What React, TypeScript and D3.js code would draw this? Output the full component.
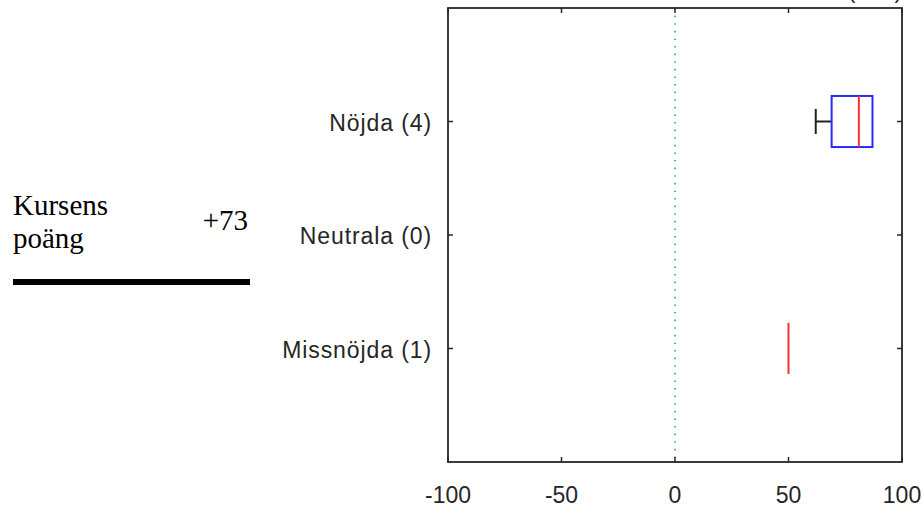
import React from "react";
import * as d3 from "d3";

const categories = ["Nöjda (4)", "Neutrala (0)", "Missnöjda (1)"];
const whiskerLow = [62, null, 50];
const quartile1 = [69, null, 50];
const medians = [81, null, 50];
const quartile3 = [87, null, 50];
const whiskerHigh = [87, null, 50];
const xTicks = [-100, -50, 0, 50, 100];
const referenceValue = 0;
const scoreLabelLines = ["Kursens", "poäng"];
const scoreValue = "+73";
const titleFragment = "(n=5)";

const W = 922;
const H = 508;
const plot = { left: 448, right: 902, top: 8, bottom: 462 };

export default function App() {
  const x = d3.scaleLinear().domain([-100, 100]).range([plot.left, plot.right]);
  const y = d3
    .scalePoint<string>()
    .domain(categories)
    .range([plot.top, plot.bottom])
    .padding(1);
  const step = y.step();
  const halfBox = step * 0.225;
  const halfCap = step * 0.11;
  const axisColor = "#262626";
  const tickLen = 5;
  const sansFont = "'Liberation Sans', Arial, Helvetica, sans-serif";
  const serifFont = "'Liberation Serif', 'Times New Roman', serif";

  return (
    <svg
      width={W}
      height={H}
      viewBox={`0 0 ${W} ${H}`}
      style={{ position: "absolute", left: 0, top: 0, background: "#fff" }}
    >
      <rect x={0} y={0} width={W} height={H} fill="#fff" />

      {/* Left annotation */}
      <g fontFamily={serifFont} fontSize={29} fill="#000">
        {scoreLabelLines.map((t, i) => (
          <text key={t} x={13} y={215 + i * 33}>
            {t}
          </text>
        ))}
        <text x={248} y={230} textAnchor="end">
          {scoreValue}
        </text>
      </g>
      <line x1={13} x2={250} y1={282} y2={282} stroke="#000" strokeWidth={6} />

      {/* cut-off title fragment */}
      <text
        x={875}
        y={-2}
        textAnchor="middle"
        fontFamily={sansFont}
        fontSize={23}
        fill={axisColor}
      >
        {titleFragment}
      </text>

      {/* reference line */}
      <line
        x1={x(referenceValue)}
        x2={x(referenceValue)}
        y1={plot.top}
        y2={plot.bottom}
        stroke="#3a8fd6"
        strokeWidth={1.6}
        strokeDasharray="1.6 6"
      />

      {/* boxes */}
      {categories.map((c, i) => {
        const cy = y(c) as number;
        const q1 = quartile1[i];
        const q3 = quartile3[i];
        const med = medians[i];
        const lo = whiskerLow[i];
        const hi = whiskerHigh[i];
        if (q1 == null || q3 == null || med == null || lo == null || hi == null) return null;
        return (
          <g key={c}>
            {lo < q1 && (
              <g stroke="#222" strokeWidth={2}>
                <line x1={x(lo)} x2={x(q1)} y1={cy} y2={cy} />
                <line x1={x(lo)} x2={x(lo)} y1={cy - halfCap} y2={cy + halfCap} />
              </g>
            )}
            {hi > q3 && (
              <g stroke="#222" strokeWidth={2}>
                <line x1={x(q3)} x2={x(hi)} y1={cy} y2={cy} />
                <line x1={x(hi)} x2={x(hi)} y1={cy - halfCap} y2={cy + halfCap} />
              </g>
            )}
            <rect
              x={x(q1)}
              y={cy - halfBox}
              width={x(q3) - x(q1)}
              height={halfBox * 2}
              fill="none"
              stroke="#2a2aff"
              strokeWidth={2}
            />
            <line
              x1={x(med)}
              x2={x(med)}
              y1={cy - halfBox}
              y2={cy + halfBox}
              stroke="#ff3030"
              strokeWidth={2}
            />
          </g>
        );
      })}

      {/* axes frame */}
      <rect
        x={plot.left}
        y={plot.top}
        width={plot.right - plot.left}
        height={plot.bottom - plot.top}
        fill="none"
        stroke={axisColor}
        strokeWidth={1.8}
      />

      {/* x ticks */}
      {xTicks.map((t) => (
        <g key={t}>
          <line x1={x(t)} x2={x(t)} y1={plot.bottom} y2={plot.bottom - tickLen} stroke={axisColor} strokeWidth={1.5} />
          <line x1={x(t)} x2={x(t)} y1={plot.top} y2={plot.top + tickLen} stroke={axisColor} strokeWidth={1.5} />
          <text
            x={x(t)}
            y={503}
            textAnchor="middle"
            fontFamily={sansFont}
            fontSize={23}
            fill={axisColor}
          >
            {t}
          </text>
        </g>
      ))}

      {/* y ticks */}
      {categories.map((c) => {
        const cy = y(c) as number;
        return (
          <g key={c}>
            <line x1={plot.left} x2={plot.left + tickLen} y1={cy} y2={cy} stroke={axisColor} strokeWidth={1.5} />
            <line x1={plot.right} x2={plot.right - tickLen} y1={cy} y2={cy} stroke={axisColor} strokeWidth={1.5} />
            <text
              x={432}
              y={cy + 9}
              textAnchor="end"
              fontFamily={sansFont}
              fontSize={23}
              letterSpacing={0.9}
              fill={axisColor}
            >
              {c}
            </text>
          </g>
        );
      })}
    </svg>
  );
}
